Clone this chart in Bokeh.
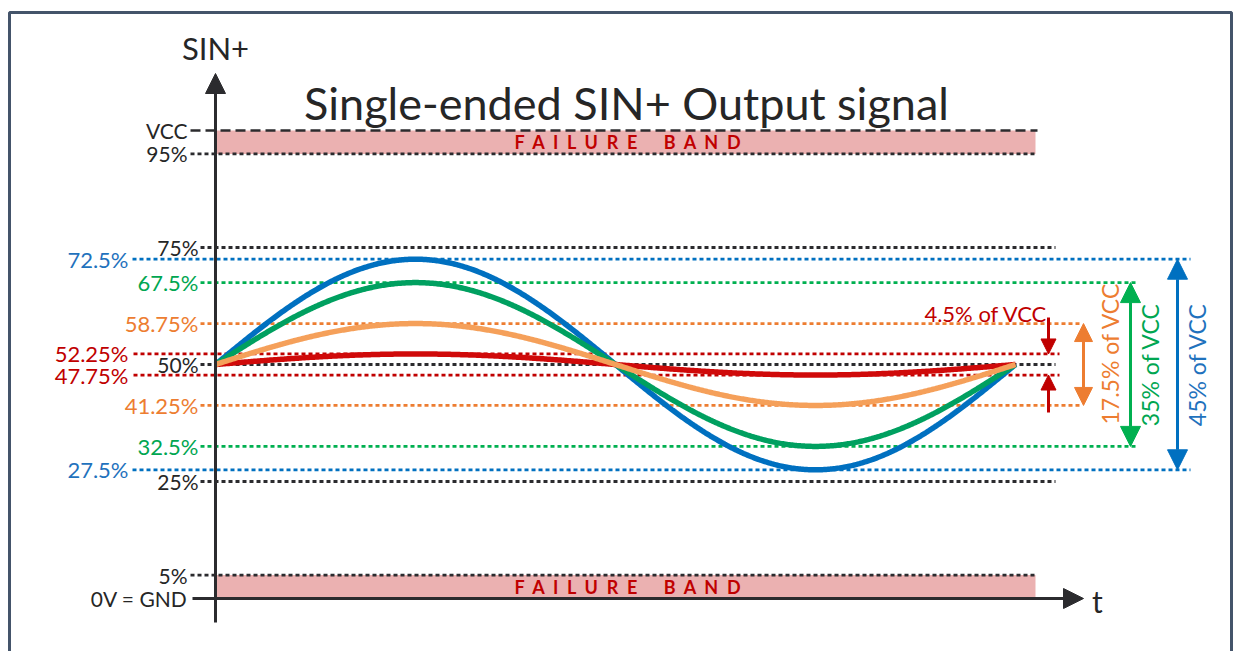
import numpy as np
from bokeh.plotting import figure
from bokeh.models import Range1d, Arrow, NormalHead
from bokeh.embed import file_html
from bokeh.resources import INLINE
from bokeh.core.properties import value

# ---------------- data ----------------
vcc_level = 100
fail_hi = 95
fail_lo = 5
gnd_level = 0
mid_level = 50
ref_levels = [75, 50, 25]
ref_labels = ["75%", "50%", "25%"]
band_labels = ["VCC", "95%", "5%", "0V = GND"]
band_levels = [100, 95, 5, 0]
amplitudes = [22.5, 17.5, 8.75, 2.25]           # blue, green, orange, red
high_labels = ["72.5%", "67.5%", "58.75%", "52.25%"]
low_labels = ["27.5%", "32.5%", "41.25%", "47.75%"]
pp_labels = ["45% of VCC", "35% of VCC", "17.5% of VCC", "4.5% of VCC"]
title_text = "Single-ended SIN+ Output signal"
NB = "\u00a0"
fail_text = (NB * 2).join("FAILURE") + NB * 6 + (NB * 2).join("BAND")

# ---------------- styles ----------------
FONT = "Lato"
BLACK = "#2b2b2e"
TXT = "#262626"
line_cols = ["#0070C0", "#00B050", "#ED7D31", "#C00000"]
text_cols = ["#1F72BD", "#00A651", "#ED7D31", "#C00000"]
curve_cols = ["#0070C0", "#00A060", "#F5A05A", "#D00A0A"]
DOT_W = 2.8

W, H = 1238, 651


def X(px):
    return (px - 215) / 800.0


def Y(py):
    return (598 - py) / 4.68


p = figure(width=W, height=H, x_range=Range1d(X(0), X(W)),
           y_range=Range1d(Y(H), Y(0)), x_axis_type=None, y_axis_type=None,
           toolbar_location=None, output_backend="svg", min_border=0,
           outline_line_color=None)
p.background_fill_color = "white"
p.border_fill_color = "white"

# frame border
p.line([X(9), X(9), X(1231), X(1231)], [Y(H + 5), Y(12), Y(12), Y(H + 5)],
       line_color="#44546A", line_width=3)

# failure bands
p.quad(left=[0, 0], right=[X(1035), X(1035)], bottom=[fail_hi, gnd_level],
       top=[vcc_level, fail_lo], fill_color="#EBB1B1", line_color=None)

# band / reference lines
p.line([X(190), X(1037)], [vcc_level, vcc_level], line_color=BLACK, line_width=2.6, line_dash="10 5")
p.line([X(190), X(1037)], [fail_hi, fail_hi], line_color=BLACK, line_width=DOT_W, line_dash="4 3")
p.line([X(190), X(1035)], [fail_lo, fail_lo], line_color=BLACK, line_width=DOT_W, line_dash="4 3")
for lv in ref_levels:
    p.line([X(200), X(1055)], [lv, lv], line_color=BLACK, line_width=DOT_W, line_dash="4 3")

# series level lines
left_px = [132, 200, 200, 133]
right_px = [1190, 1138, 1082, 1059]
label_px = [128, 198, 198, 128]
for a, c, l0, r0 in zip(amplitudes, line_cols, left_px, right_px):
    for lv in (mid_level + a, mid_level - a):
        p.line([X(l0), X(r0)], [lv, lv], line_color=c, line_width=DOT_W, line_dash="4 3")

# curves
t = np.linspace(0, 1, 601)
for i in [0, 1, 3, 2]:
    p.line(t, mid_level + amplitudes[i] * np.sin(2 * np.pi * t),
           line_color=curve_cols[i], line_width=5.5)

# axes arrows
p.add_layout(Arrow(end=NormalHead(size=20, fill_color=BLACK, line_color=BLACK),
                   x_start=0, y_start=Y(622), x_end=0, y_end=Y(73),
                   line_color=BLACK, line_width=3))
p.add_layout(Arrow(end=NormalHead(size=20, fill_color=BLACK, line_color=BLACK),
                   x_start=X(192), y_start=gnd_level, x_end=X(1083), y_end=gnd_level,
                   line_color=BLACK, line_width=3))

# peak-to-peak arrows
arrow_px = [1177, 1130, 1083]
head_sz = [20, 20, 18]
for i in range(3):
    c = line_cols[i]
    p.add_layout(Arrow(start=NormalHead(size=head_sz[i], fill_color=c, line_color=c),
                       end=NormalHead(size=head_sz[i], fill_color=c, line_color=c),
                       x_start=X(arrow_px[i]), y_start=mid_level + amplitudes[i],
                       x_end=X(arrow_px[i]), y_end=mid_level - amplitudes[i],
                       line_color=c, line_width=3))
rc = line_cols[3]
p.add_layout(Arrow(end=NormalHead(size=15, fill_color=rc, line_color=rc),
                   x_start=X(1048), y_start=Y(317), x_end=X(1048), y_end=mid_level + amplitudes[3],
                   line_color=rc, line_width=3))
p.add_layout(Arrow(end=NormalHead(size=15, fill_color=rc, line_color=rc),
                   x_start=X(1048), y_start=Y(412), x_end=X(1048), y_end=mid_level - amplitudes[3],
                   line_color=rc, line_width=3))


# ---------------- texts ----------------
def txt(x, y, s, size, color, align="right", angle=0.0, style="normal", baseline="middle"):
    p.text(x=[x], y=[y], text=[s], text_font=value(FONT), text_font_size=f"{size}px",
           text_color=color, text_align=align, text_baseline=baseline, angle=angle,
           text_font_style=style)


for s, lv in zip(band_labels, band_levels):
    txt(X(187), lv, s, 21, TXT)
for s, lv in zip(ref_labels, ref_levels):
    txt(X(198), lv, s, 21, TXT)
for i in range(4):
    txt(X(label_px[i]), mid_level + amplitudes[i], high_labels[i], 22, text_cols[i])
    txt(X(label_px[i]), mid_level - amplitudes[i], low_labels[i], 22, text_cols[i])

txt(X(1196), mid_level, pp_labels[0], 23, text_cols[0], align="center", angle=np.pi / 2)
txt(X(1149), mid_level, pp_labels[1], 23, text_cols[1], align="center", angle=np.pi / 2)
txt(X(1109), Y(353), pp_labels[2], 23, text_cols[2], align="center", angle=np.pi / 2)
txt(X(1047), Y(313), pp_labels[3], 22, text_cols[3], align="right")

txt(X(626), Y(102), title_text, 45, "#262626", align="center")
txt(X(215), Y(47), "SIN+", 31, "#262626", align="center")
txt(X(1097), Y(600), "t", 30, "#262626", align="center")
txt(X(627), (vcc_level + fail_hi) / 2, fail_text, 18, "#C00000", align="center", style="bold")
txt(X(627), (fail_lo + gnd_level) / 2, fail_text, 18, "#C00000", align="center", style="bold")

open("out.html", "w").write(file_html(p, INLINE))
